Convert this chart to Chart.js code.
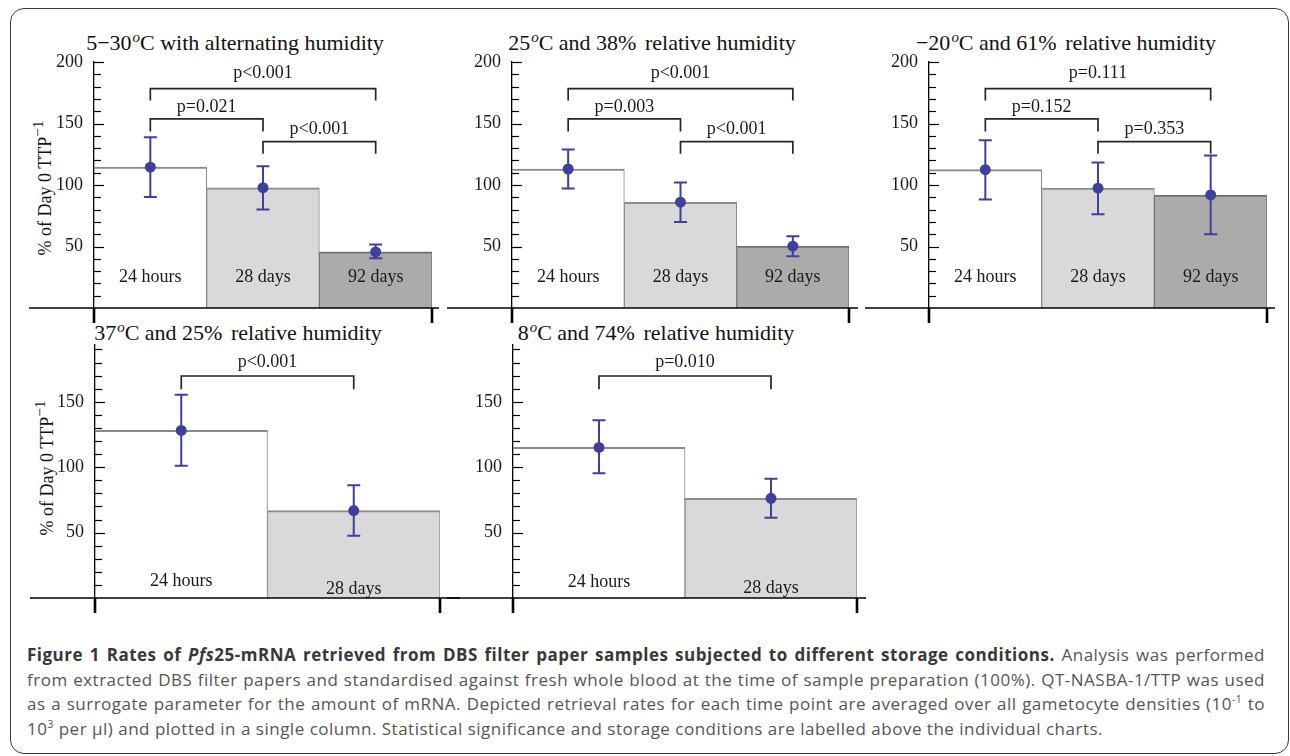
<!DOCTYPE html>
<html>
<head>
<meta charset="utf-8">
<script src="https://cdn.jsdelivr.net/npm/chart.js@4.4.1/dist/chart.umd.min.js"></script>
<style>
html,body{margin:0;padding:0;background:#fff;}
body{width:1290px;height:756px;position:relative;overflow:hidden;font-family:"Liberation Serif",serif;}
#frame{position:absolute;left:10px;top:8px;width:1279px;height:746px;border:1.5px solid #3a3a3a;border-radius:14px;box-sizing:border-box;}
canvas{position:absolute;}
.title{position:absolute;font-family:"Liberation Serif",serif;font-size:22px;color:#111;white-space:nowrap;transform:translateX(-50%);line-height:24px;}
.title sup{font-size:0.68em;font-style:italic;vertical-align:0.55em;line-height:0;margin-left:1px;}
.title .gap{display:inline-block;width:3px;}
.ytitle{position:absolute;font-family:"Liberation Serif",serif;font-size:18px;color:#111;white-space:nowrap;line-height:20px;transform:translate(-50%,-50%) rotate(-90deg);}
.ytitle sup{font-size:0.85em;vertical-align:0.5em;line-height:0;}
#caption{position:absolute;left:27px;top:643px;width:1238px;font-family:"Open Sans",sans-serif;font-size:17px;letter-spacing:0.5px;line-height:24.7px;color:#555;}
#caption div{text-align:justify;text-align-last:justify;white-space:nowrap;}
#caption div.last{text-align-last:left;}
#caption b{color:#383838;}
#caption sup{font-size:0.6em;vertical-align:0.7em;line-height:0;}
</style>
</head>
<body>
<div id="frame"></div>

<div class="title" style="left:235px;top:31px;">5&#8722;30<sup>o</sup>C with alternating humidity</div>
<div class="title" style="left:652px;top:31px;">25<sup>o</sup>C and 38%<span class="gap"></span> relative humidity</div>
<div class="title" style="left:1066px;top:31px;">&#8722;20<sup>o</sup>C and 61%<span class="gap"></span> relative humidity</div>
<div class="title" style="left:238px;top:321px;">37<sup>o</sup>C and 25%<span class="gap"></span> relative humidity</div>
<div class="title" style="left:656px;top:321px;">8<sup>o</sup>C and 74%<span class="gap"></span> relative humidity</div>

<div class="ytitle" style="left:45px;top:188px;">% of Day 0 TTP<sup>&#8722;1</sup></div>
<div class="ytitle" style="left:47px;top:468px;">% of Day 0 TTP<sup>&#8722;1</sup></div>

<div id="caption">
<div><b>Figure 1 Rates of <i>Pfs</i>25-mRNA retrieved from DBS filter paper samples subjected to different storage conditions.</b> Analysis was performed</div>
<div>from extracted DBS filter papers and standardised against fresh whole blood at the time of sample preparation (100%). QT-NASBA-1/TTP was used</div>
<div>as a surrogate parameter for the amount of mRNA. Depicted retrieval rates for each time point are averaged over all gametocyte densities (10<sup>-1</sup> to</div>
<div class="last">10<sup>3</sup> per µl) and plotted in a single column. Statistical significance and storage conditions are labelled above the individual charts.</div>
</div>

<script>
// ---------------- DATA ----------------
const catsThree = ["24 hours", "28 days", "92 days"];
const catsTwo = ["24 hours", "28 days"];

// 5-30 C with alternating humidity
const p1Mean = [114.5, 97.8, 45.6];
const p1High = [138.8, 115.3, 51.6];
const p1Low  = [90.2, 80.0, 40.5];
const p1PVals = ["p<0.001", "p=0.021", "p<0.001"];

// 25 C and 38% relative humidity
const p2Mean = [113.0, 86.0, 50.3];
const p2High = [128.8, 102.0, 58.3];
const p2Low  = [97.2, 70.0, 42.1];
const p2PVals = ["p<0.001", "p=0.003", "p<0.001"];

// -20 C and 61% relative humidity
const p3Mean = [112.5, 97.4, 91.9];
const p3High = [136.4, 118.3, 124.0];
const p3Low  = [88.3, 76.2, 60.0];
const p3PVals = ["p=0.111", "p=0.152", "p=0.353"];

// 37 C and 25% relative humidity
const p4Mean = [128.1, 66.8];
const p4High = [155.4, 86.1];
const p4Low  = [101.1, 47.6];
const p4PVals = ["p<0.001"];

// 8 C and 74% relative humidity
const p5Mean = [115.1, 76.2];
const p5High = [135.8, 91.2];
const p5Low  = [95.3, 61.4];
const p5PVals = ["p=0.010"];

// bracket pairs (category indices)
const pairsThree = [[0, 2], [0, 1], [1, 2]];
const pairsTwo = [[0, 1]];

// y axis ticks
const yTickLabelsTop = [50, 100, 150, 200];
const yTickLabelsBottom = [50, 100, 150];
const yTicksTop = [10, 20, 30, 40, 50, 60, 70, 80, 90, 100, 110, 120, 130, 140, 150, 160, 170, 180, 190, 200];
const yTicksBottom = [10, 20, 30, 40, 50, 60, 70, 80, 90, 100, 110, 120, 130, 140, 150, 160, 170, 180, 190];
const yMaxTop = 200;
const yMaxBottom = 193.4;

// ---------------- LAYOUT / STYLE ----------------
const barFills = ["#ffffff", "#d9d9d9", "#ababab"];
const barBorders = ["#8a8a8a", "#8c8c8c", "#707070"];
const pointColor = "#3f3fa0";
const Y_AXIS_W = 80, PAD_T = 25, PAD_B = 25, PAD_R = 30;

const rowTop = {
  topPx: 62, bottomPx: 308,
  brackets: [{level: 178.3, leg: 168.6, text: 187.0}, {level: 153.7, leg: 143.4, text: 159.6}, {level: 135.3, leg: 125.5, text: 141.6}]
};
const rowBottom = {
  topPx: 345, bottomPx: 598,
  brackets: [{level: 169.7, leg: 159.5, text: 176.3}]
};

const panels = [
  {axisX: 94, right: 432, row: rowTop, yMax: yMaxTop, ticks: yTicksTop, labels: yTickLabelsTop, cats: catsThree,
   mean: p1Mean, high: p1High, low: p1Low, pv: p1PVals, pairs: pairsThree, barLabelY: [21, 21, 21], extL: 65, extR: 7},
  {axisX: 512, right: 849, row: rowTop, yMax: yMaxTop, ticks: yTicksTop, labels: yTickLabelsTop, cats: catsThree,
   mean: p2Mean, high: p2High, low: p2Low, pv: p2PVals, pairs: pairsThree, barLabelY: [21, 21, 21], extL: 65, extR: 9},
  {axisX: 929, right: 1267, row: rowTop, yMax: yMaxTop, ticks: yTicksTop, labels: yTickLabelsTop, cats: catsThree,
   mean: p3Mean, high: p3High, low: p3Low, pv: p3PVals, pairs: pairsThree, barLabelY: [21, 21, 21], extL: 64, extR: 8},
  {axisX: 95, right: 440, row: rowBottom, yMax: yMaxBottom, ticks: yTicksBottom, labels: yTickLabelsBottom, cats: catsTwo,
   mean: p4Mean, high: p4High, low: p4Low, pv: p4PVals, pairs: pairsTwo, barLabelY: [9.4, 3.3], extL: 65, extR: 20},
  {axisX: 513, right: 857, row: rowBottom, yMax: yMaxBottom, ticks: yTicksBottom, labels: yTickLabelsBottom, cats: catsTwo,
   mean: p5Mean, high: p5High, low: p5Low, pv: p5PVals, pairs: pairsTwo, barLabelY: [8.1, 3.8], extL: 66, extR: 9}
];

function decoPlugin(P) {
  return {
    id: 'deco',
    afterDatasetsDraw(chart) {
      const {ctx, chartArea: ca, scales} = chart;
      const x = scales.x, y = scales.y;
      ctx.save();
      // bar labels
      ctx.font = '18px "Liberation Serif"';
      ctx.fillStyle = '#1a1a1a';
      ctx.textAlign = 'center';
      ctx.textBaseline = 'alphabetic';
      P.cats.forEach((c, i) => ctx.fillText(c, x.getPixelForValue(i), y.getPixelForValue(P.barLabelY[i])));
      // error bars
      ctx.strokeStyle = pointColor;
      ctx.lineWidth = 2;
      P.mean.forEach((m, i) => {
        const cx = x.getPixelForValue(i);
        const yh = y.getPixelForValue(P.high[i]);
        const yl = y.getPixelForValue(P.low[i]);
        ctx.beginPath();
        ctx.moveTo(cx, yh); ctx.lineTo(cx, yl);
        ctx.moveTo(cx - 6.5, yh); ctx.lineTo(cx + 6.5, yh);
        ctx.moveTo(cx - 6.5, yl); ctx.lineTo(cx + 6.5, yl);
        ctx.stroke();
      });
      // significance brackets
      ctx.strokeStyle = '#262626';
      ctx.lineWidth = 1.7;
      ctx.fillStyle = '#1a1a1a';
      P.pairs.forEach((pr, k) => {
        const b = P.row.brackets[k];
        const xa = x.getPixelForValue(pr[0]);
        const xb = x.getPixelForValue(pr[1]);
        const yl = y.getPixelForValue(b.level);
        const yg = y.getPixelForValue(b.leg);
        ctx.beginPath();
        ctx.moveTo(xa, yg); ctx.lineTo(xa, yl); ctx.lineTo(xb, yl); ctx.lineTo(xb, yg);
        ctx.stroke();
        ctx.fillText(P.pv[k], (xa + xb) / 2, y.getPixelForValue(b.text));
      });
      // inner y-axis tick marks
      ctx.strokeStyle = '#000';
      ctx.lineWidth = 1.2;
      y.ticks.forEach(t => {
        const py = Math.round(y.getPixelForValue(t.value)) + 0.5;
        const len = (t.value % 50 === 0) ? 10 : 7;
        ctx.beginPath();
        ctx.moveTo(ca.left, py); ctx.lineTo(ca.left + len, py);
        ctx.stroke();
      });
      // baseline
      const by = y.getPixelForValue(0);
      ctx.lineWidth = 1.3;
      ctx.beginPath();
      ctx.moveTo(ca.left - P.extL, by); ctx.lineTo(ca.right + P.extR, by);
      ctx.stroke();
      // end ticks on x axis
      ctx.lineWidth = 2.6;
      ctx.beginPath();
      ctx.moveTo(ca.left, by); ctx.lineTo(ca.left, by + 15);
      ctx.moveTo(ca.right, by); ctx.lineTo(ca.right, by + 15);
      ctx.stroke();
      ctx.restore();
    }
  };
}

panels.forEach(P => {
  const cv = document.createElement('canvas');
  const left = P.axisX - Y_AXIS_W;
  const top = P.row.topPx - PAD_T;
  const w = P.right - P.axisX + Y_AXIS_W + PAD_R;
  const h = P.row.bottomPx - P.row.topPx + PAD_T + PAD_B;
  cv.width = w; cv.height = h;
  cv.style.left = left + 'px'; cv.style.top = top + 'px';
  cv.style.width = w + 'px'; cv.style.height = h + 'px';
  document.body.appendChild(cv);
  const n = P.cats.length;
  new Chart(cv, {
    type: 'bar',
    data: {
      labels: P.cats,
      datasets: [
        {type: 'line', data: P.mean, showLine: false, pointRadius: 5.5, pointHoverRadius: 5.5,
         pointBackgroundColor: pointColor, pointBorderColor: pointColor, pointBorderWidth: 0},
        {type: 'bar', data: P.mean, backgroundColor: barFills.slice(0, n), borderColor: barBorders.slice(0, n),
         borderWidth: {top: 2, left: 1, right: 1, bottom: 0}, borderSkipped: false,
         barPercentage: 1, categoryPercentage: 1}
      ]
    },
    options: {
      responsive: false, animation: false, events: [],
      devicePixelRatio: 1,
      layout: {padding: {left: 0, top: PAD_T, right: PAD_R, bottom: PAD_B}},
      plugins: {legend: {display: false}, tooltip: {enabled: false}, title: {display: false}},
      scales: {
        x: {type: 'category', display: false, offset: true},
        y: {
          type: 'linear', min: 0, max: P.yMax, bounds: 'data',
          afterFit(s) { s.width = Y_AXIS_W; },
          afterBuildTicks(s) { s.ticks = P.ticks.map(v => ({value: v})); },
          ticks: {
            autoSkip: false, padding: 11, color: '#1a1a1a',
            font: {family: 'Liberation Serif', size: 18},
            callback: (v) => P.labels.includes(v) ? String(v) : ''
          },
          grid: {display: true, drawOnChartArea: false, drawTicks: false},
          border: {display: true, color: '#000', width: 1.3}
        }
      }
    },
    plugins: [decoPlugin(P)]
  });
});
</script>
</body>
</html>
